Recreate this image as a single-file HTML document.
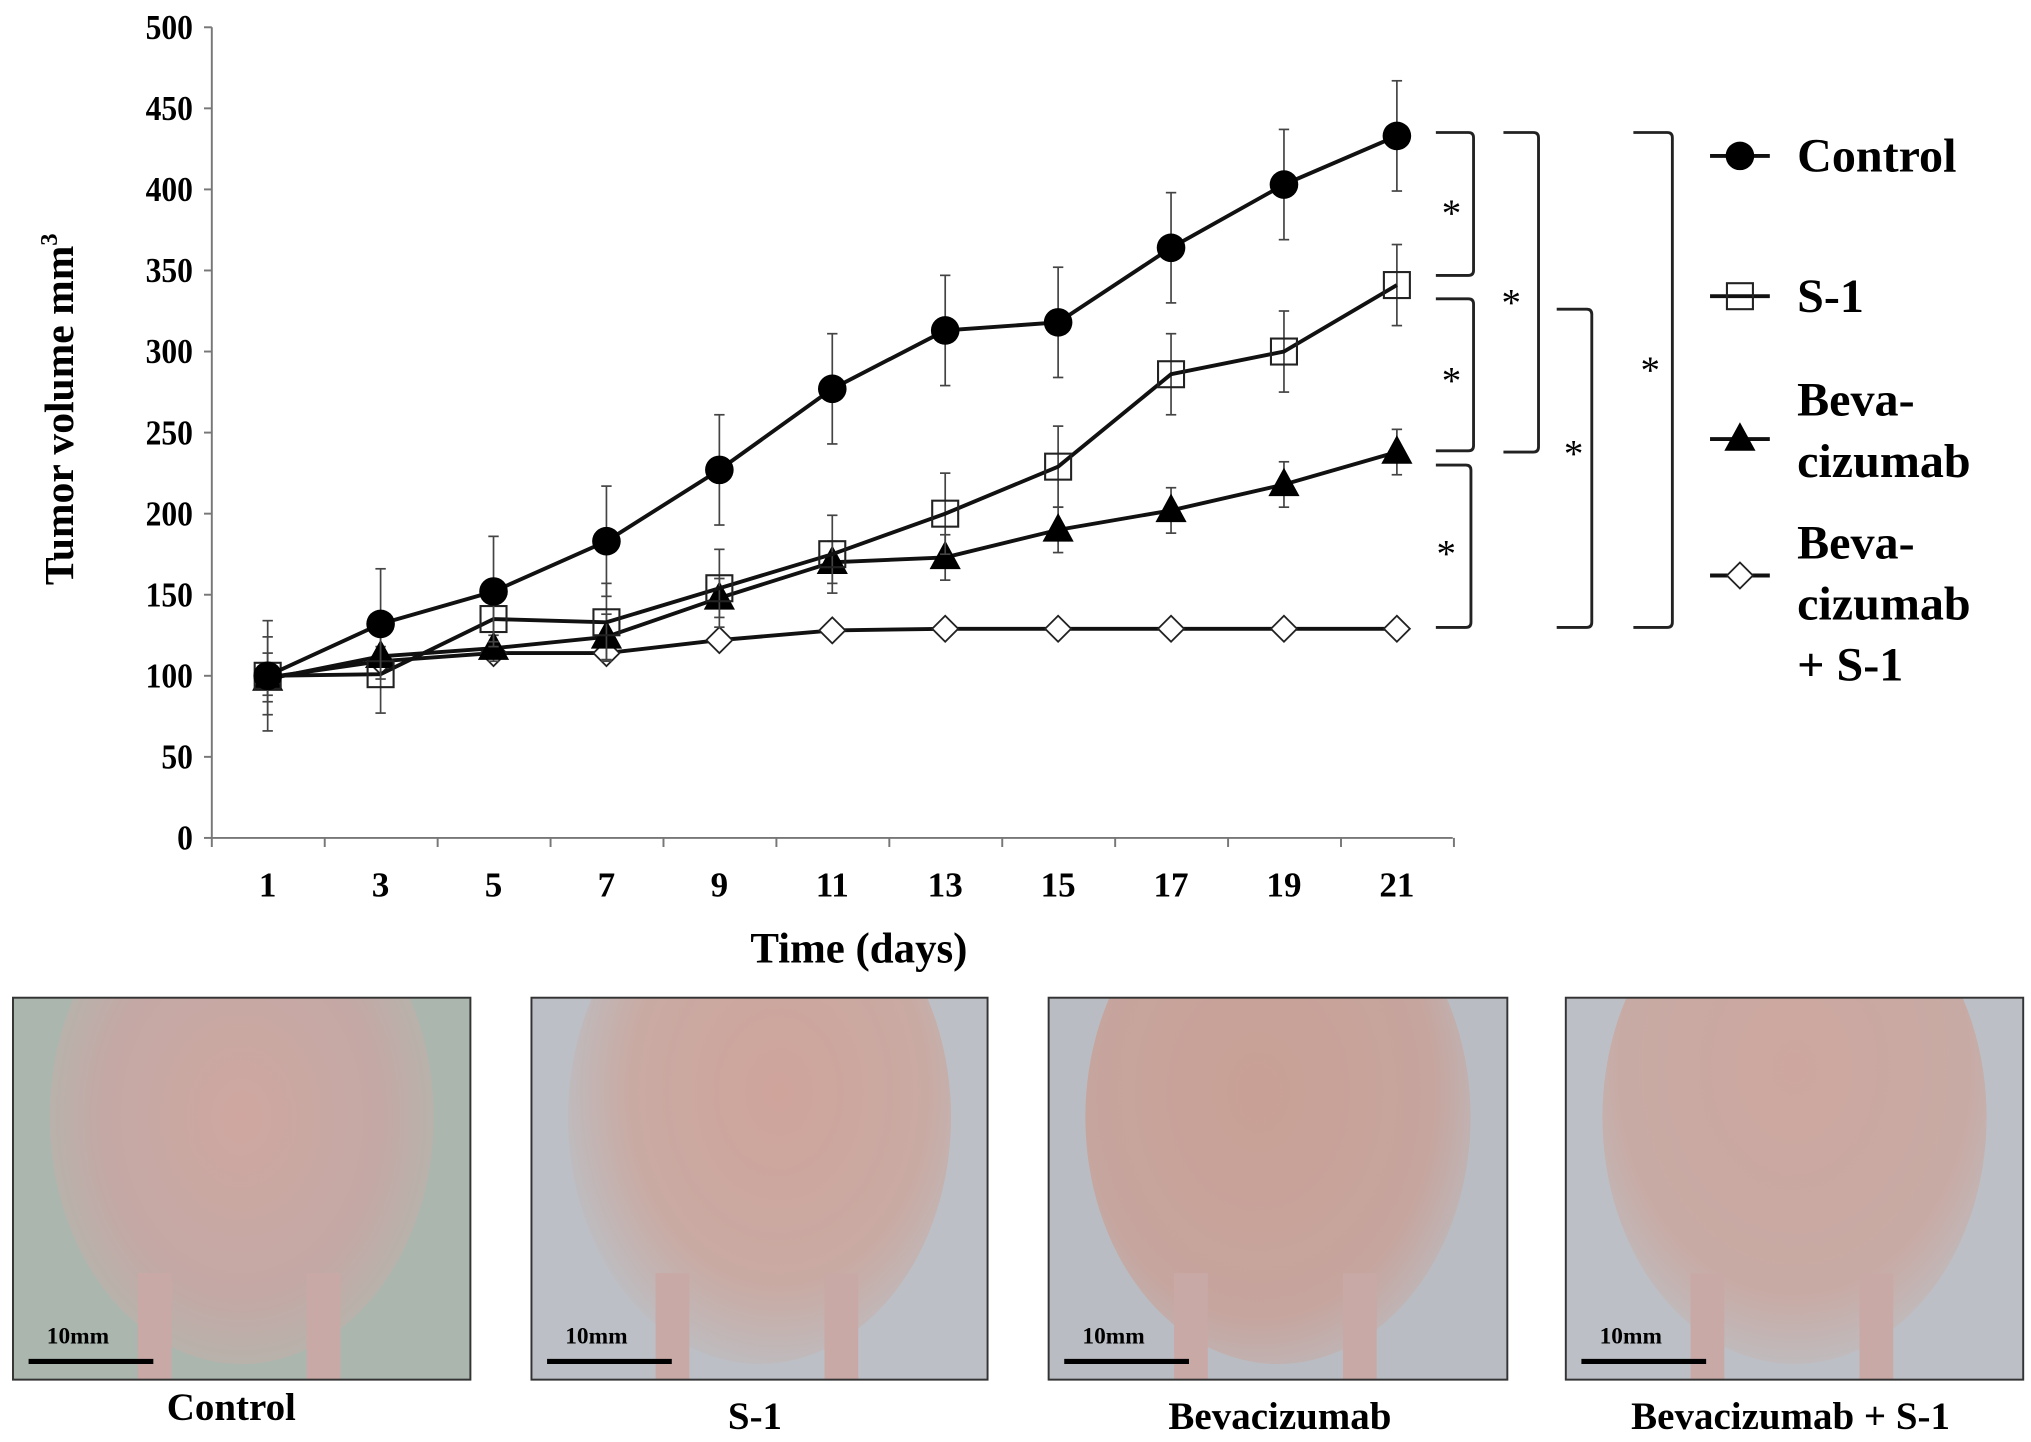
<!DOCTYPE html>
<html><head><meta charset="utf-8"><style>
html,body{margin:0;padding:0;background:#fff;}
svg{display:block;font-family:"Liberation Serif",serif;font-weight:bold;}
</style></head><body>
<svg id="chart" width="2031" height="1442" viewBox="0 0 1563 1110" preserveAspectRatio="none" xmlns="http://www.w3.org/2000/svg">
<defs>
<radialGradient id="g0" cx="50%" cy="50%" r="60%"><stop offset="0" stop-color="#cfa7a0"/><stop offset="0.6" stop-color="#c4a8a5"/><stop offset="1" stop-color="#b0b9b0"/></radialGradient>
<radialGradient id="g1" cx="55%" cy="45%" r="60%"><stop offset="0" stop-color="#cfa49b"/><stop offset="0.65" stop-color="#c9aaa3"/><stop offset="1" stop-color="#bcbfc4"/></radialGradient>
<radialGradient id="g2" cx="45%" cy="45%" r="65%"><stop offset="0" stop-color="#c9a095"/><stop offset="0.7" stop-color="#c6a59e"/><stop offset="1" stop-color="#bbbec3"/></radialGradient>
<radialGradient id="g3" cx="50%" cy="40%" r="65%"><stop offset="0" stop-color="#cda79f"/><stop offset="0.7" stop-color="#c8aaa4"/><stop offset="1" stop-color="#bdc0c5"/></radialGradient>
<clipPath id="c0"><rect x="10" y="768" width="352" height="294"/></clipPath>
<clipPath id="c1"><rect x="409" y="768" width="351" height="294"/></clipPath>
<clipPath id="c2"><rect x="807" y="768" width="353" height="294"/></clipPath>
<clipPath id="c3"><rect x="1205" y="768" width="352" height="294"/></clipPath>
</defs>
<g id="plot"></g>
<g id="photos"></g>
</svg>
<script>
const days = [1,3,5,7,9,11,13,15,17,19,21];
const yTicks = [0,50,100,150,200,250,300,350,400,450,500];
const controlVals = [100,132,152,183,227,277,313,318,364,403,433];
const controlErr = [34,34,34,34,34,34,34,34,34,34,34];
const s1Vals = [100,101,135,133,154,175,200,229,286,300,341];
const s1Err = [24,24,14,24,24,24,25,25,25,25,25];
const bevaVals = [98,112,117,124,148,170,173,190,202,218,238];
const bevaErr = [10,6,8,14,12,13,14,14,14,14,14];
const comboVals = [99,109,114,114,122,128,129,129,129,129,129];
const comboErr = [15,4,4,4,3,3,3,3,3,3,3];
const photoLabels = ["Control","S-1","Bevacizumab","Bevacizumab + S-1"];

const NS="http://www.w3.org/2000/svg";
const plot=document.getElementById('plot');
const X0=163,Y0=645,YT=21,XA=206,XB=1075;
const xs=d=>XA+(d-1)/20*(XB-XA);
const ys=v=>Y0-v/500*(Y0-YT);
function mk(tag,attrs,parent,text){const e=document.createElementNS(NS,tag);for(const k in attrs)e.setAttribute(k,attrs[k]);if(text!==undefined)e.textContent=text;(parent||plot).appendChild(e);return e;}

let ax=mk('line',{x1:X0,y1:YT,x2:X0,y2:Y0,stroke:'#777','stroke-width':1.5});


ax=mk('line',{x1:X0,y1:Y0,x2:1118,y2:Y0,stroke:'#777','stroke-width':1.5});


yTicks.forEach(t=>{
  mk('line',{x1:X0-6,y1:ys(t),x2:X0,y2:ys(t),stroke:'#777','stroke-width':1.5});
  const l=mk('text',{x:135,y:ys(t)+9,'text-anchor':'end','font-size':27,transform:`translate(${135*0.1},0) scale(0.9,1)`},plot,String(t));
  l.setAttribute('x',150);
  
  
});
for(let i=0;i<=11;i++){const x=X0+i*(XB-XA)/10;mk('line',{x1:x,y1:Y0,x2:x,y2:Y0+7,stroke:'#777','stroke-width':1.5});}
days.forEach(d=>{
  const l=mk('text',{x:xs(d),y:690,'text-anchor':'middle','font-size':27},plot,String(d));
  
  
});
let t=mk('text',{x:661,y:741,'text-anchor':'middle','font-size':33},plot,'Time (days)');


t=mk('text',{x:0,y:0,'text-anchor':'middle','font-size':32,transform:'translate(56,315) rotate(-90)'},plot);


t.innerHTML='Tumor volume mm<tspan font-size="19" dy="-12">3</tspan>';

function marker(type,x,y,g){
  if(type==='circle')mk('circle',{cx:x,cy:y,r:11,fill:'#000'},g);
  else if(type==='square')mk('rect',{x:x-10,y:y-10,width:20,height:20,fill:'none',stroke:'#222','stroke-width':1.6},g);
  else if(type==='tri')mk('polygon',{points:`${x},${y-13} ${x+12},${y+9} ${x-12},${y+9}`,fill:'#000'},g);
  else mk('polygon',{points:`${x},${y-10} ${x+10},${y} ${x},${y+10} ${x-10},${y}`,fill:'#fff',stroke:'#222','stroke-width':1.4},g);
}
function series(name,vals,errs,type){
  const g=mk('g',{});
  
  
  vals.forEach((v,i)=>{const x=xs(days[i]);
    mk('line',{x1:x,y1:ys(v-errs[i]),x2:x,y2:ys(v+errs[i]),stroke:'#444','stroke-width':1.3},g);
    mk('line',{x1:x-4,y1:ys(v+errs[i]),x2:x+4,y2:ys(v+errs[i]),stroke:'#444','stroke-width':1.3},g);
    mk('line',{x1:x-4,y1:ys(v-errs[i]),x2:x+4,y2:ys(v-errs[i]),stroke:'#444','stroke-width':1.3},g);});
  mk('polyline',{points:vals.map((v,i)=>xs(days[i])+','+ys(v)).join(' '),fill:'none',stroke:'#111','stroke-width':3},g);
  vals.forEach((v,i)=>{marker(type,xs(days[i]),ys(v),g);});
}
series('combo',comboVals,comboErr,'diamond');
series('beva',bevaVals,bevaErr,'tri');
series('s1',s1Vals,s1Err,'square');
series('control',controlVals,controlErr,'circle');

function bracket(x1,x2,y1,y2,sx,sy){
  const b=mk('path',{d:`M${x1},${y1} L${x2-4},${y1} Q${x2},${y1} ${x2},${y1+4} L${x2},${y2-4} Q${x2},${y2} ${x2-4},${y2} L${x1},${y2}`,fill:'none',stroke:'#222','stroke-width':2.2});
  
  
  const s=mk('text',{x:sx,y:sy+14,'text-anchor':'middle','font-size':30,'font-weight':'normal'},plot,'*');
  
  
}
bracket(1105,1134,102,212,1117,160);
bracket(1105,1134,230,347,1117,289);
bracket(1105,1132,358,483,1113,422);
bracket(1157,1184,102,348,1163,229);
bracket(1198,1225,238,483,1211,345);
bracket(1257,1287,102,483,1270,281);

const legend=[['control','circle',120,['Control'],132],['s1','square',228,['S-1'],240],['beva','tri',338,['Beva-','cizumab'],320],['combo','diamond',443,['Beva-','cizumab','+ S-1'],430]];
legend.forEach(([n,type,my,lines,ty])=>{
  const g=mk('g',{});
  
  
  mk('line',{x1:1316,y1:my,x2:1362,y2:my,stroke:'#111','stroke-width':3},g);
  marker(type,1339,my,g);
  lines.forEach((s,i)=>mk('text',{x:1383,y:ty+i*47,'font-size':37},g,s));
});

const ph=document.getElementById('photos');
const boxes=[[10,362],[409,760],[807,1160],[1205,1557]];
const bgs=['#aab6ae','#bcc0c6','#b9bdc3','#bcc0c6'];
boxes.forEach(([x1,x2],i)=>{
  const g=mk('g',{},ph);
  
  
  const inner=mk('g',{'clip-path':`url(#c${i})`},g);
  mk('rect',{x:x1,y:768,width:x2-x1,height:294,fill:bgs[i]},inner);
  mk('ellipse',{cx:(x1+x2)/2,cy:860,rx:(x2-x1)*0.42,ry:190,fill:`url(#g${i})`},inner);
  mk('rect',{x:(x1+x2)/2-80,y:980,width:26,height:90,fill:'#c9a9a6'},inner);
  mk('rect',{x:(x1+x2)/2+50,y:980,width:26,height:90,fill:'#c9a9a6'},inner);
  mk('rect',{x:x1,y:768,width:x2-x1,height:294,fill:'none',stroke:'#333','stroke-width':1.5},g);
  mk('line',{x1:x1+12,y1:1048,x2:x1+108,y2:1048,stroke:'#000','stroke-width':4},g);
  mk('text',{x:x1+26,y:1034,'font-size':18},g,'10mm');
  const c=mk('text',{x:[178,581,985,1378][i],y:i===0?1093:1100,'text-anchor':'middle','font-size':30},ph,photoLabels[i]);
  
  
});
</script>
</body></html>
